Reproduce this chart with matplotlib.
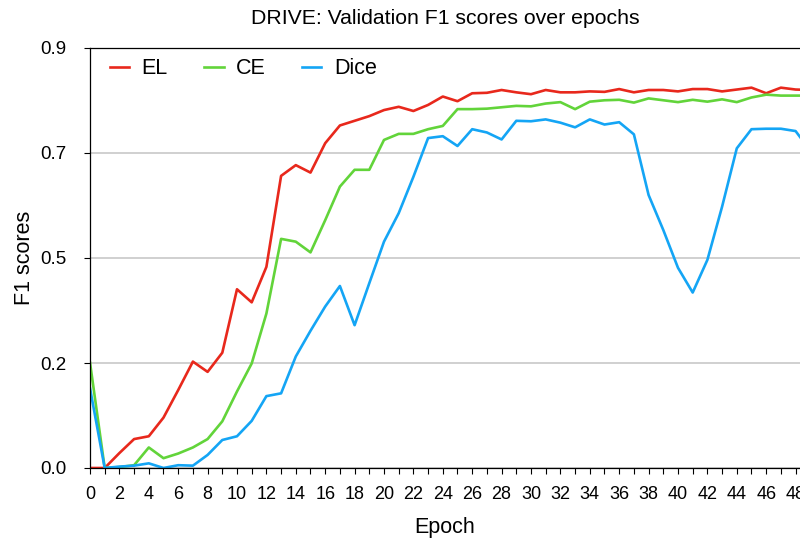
import matplotlib
matplotlib.use("Agg")
import matplotlib.pyplot as plt
from matplotlib.ticker import MultipleLocator

plt.rcParams['font.family'] = ['Liberation Sans', 'DejaVu Sans']

# ---------------------
# Data
# ---------------------
epochs = list(range(50))

el = [0.0, 0.0, 0.032, 0.062, 0.068, 0.108, 0.167, 0.228, 0.206, 0.247,
      0.383, 0.355, 0.431, 0.626, 0.649, 0.633, 0.696, 0.734, 0.744, 0.754,
      0.767, 0.774, 0.765, 0.778, 0.796, 0.786, 0.803, 0.804, 0.810, 0.805,
      0.801, 0.810, 0.805, 0.805, 0.807, 0.806, 0.812, 0.805, 0.810, 0.810,
      0.807, 0.812, 0.812, 0.807, 0.811, 0.815, 0.803, 0.815, 0.811, 0.810]

ce = [0.226, 0.0, 0.002, 0.006, 0.044, 0.021, 0.031, 0.044, 0.062, 0.100,
      0.164, 0.224, 0.331, 0.491, 0.485, 0.462, 0.531, 0.603, 0.639, 0.639,
      0.703, 0.716, 0.716, 0.726, 0.733, 0.769, 0.769, 0.770, 0.773, 0.776,
      0.775, 0.781, 0.784, 0.769, 0.785, 0.788, 0.789, 0.783, 0.792, 0.788,
      0.784, 0.789, 0.785, 0.790, 0.784, 0.794, 0.800, 0.798, 0.798, 0.798]

dice = [0.171, 0.0, 0.003, 0.005, 0.010, 0.0, 0.006, 0.005, 0.028, 0.060,
        0.068, 0.101, 0.154, 0.160, 0.239, 0.294, 0.346, 0.390, 0.306, 0.396,
        0.485, 0.546, 0.624, 0.707, 0.711, 0.690, 0.726, 0.719, 0.704, 0.744,
        0.743, 0.747, 0.740, 0.730, 0.747, 0.736, 0.741, 0.715, 0.585, 0.510,
        0.429, 0.376, 0.446, 0.560, 0.685, 0.726, 0.727, 0.727, 0.722, 0.680]

ytick_values = [0.0, 0.225, 0.45, 0.675, 0.9]
ytick_labels = ['0.0', '0.2', '0.5', '0.7', '0.9']

# ---------------------
# Plot
# ---------------------
fig = plt.figure(figsize=(8, 5.4), dpi=100)
ax = fig.add_axes([90 / 800, 72 / 540, 710 / 800, 420 / 540])

ax.plot(epochs, el, color='#e8281c', lw=1.9, label='EL')
ax.plot(epochs, ce, color='#62d43a', lw=1.9, label='CE')
ax.plot(epochs, dice, color='#14a5f5', lw=1.9, label='Dice')

ax.set_xlim(0, 48.3)
ax.set_ylim(0, 0.9)
ax.xaxis.set_major_locator(MultipleLocator(2))
ax.xaxis.set_minor_locator(MultipleLocator(1))
ax.set_yticks(ytick_values)
ax.set_yticklabels(ytick_labels)
ax.tick_params(axis='x', which='both', direction='out', length=4, width=0.8,
               pad=9, labelsize=13)
ax.tick_params(axis='y', direction='out', length=4, width=0.8, pad=13,
               labelsize=13.5)

ax.grid(axis='y', color='#c8c8c8', lw=1.2)
ax.set_axisbelow(True)
ax.spines['right'].set_visible(False)
for s in ['left', 'bottom', 'top']:
    ax.spines[s].set_linewidth(0.9)

ax.set_xlabel('Epoch', fontsize=15.5, labelpad=10)
ax.set_ylabel('F1 scores', fontsize=15.5, labelpad=4)
ax.set_title('DRIVE: Validation F1 scores over epochs', fontsize=15.3, pad=17)

ax.legend(loc='upper left', ncol=3, frameon=False, fontsize=15.5,
          handlelength=0.9, handletextpad=0.58, columnspacing=1.68,
          bbox_to_anchor=(0.028, 0.975), borderaxespad=0, borderpad=0)

fig.savefig('out.png', dpi=100)
